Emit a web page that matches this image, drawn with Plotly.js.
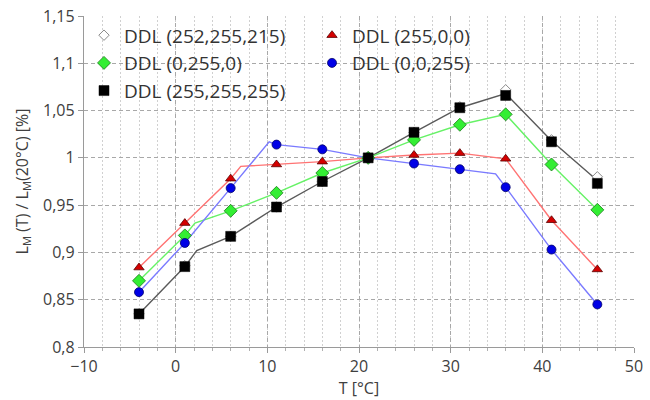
<!DOCTYPE html>
<html>
<head>
<meta charset="utf-8">
<script src="https://cdn.plot.ly/plotly-3.0.1.min.js"></script>
<style>html,body{margin:0;padding:0;background:#fff;}#chart{width:650px;height:400px;}</style>
</head>
<body>
<div id="chart"></div>
<script>
// Temperatures of the measured points [°C]
var temps = [-4, 1, 6, 11, 16, 21, 26, 31, 36, 41, 46];

// Measured ratios (markers)
var ddlGray  = [0.835, 0.886, 0.917, 0.948, 0.975, 1.000, 1.027, 1.054, 1.072, 1.019, 0.980];
var ddlRed   = [0.884, 0.931, 0.978, 0.993, 0.996, 1.000, 1.003, 1.005, 0.999, 0.934, 0.882];
var ddlGreen = [0.870, 0.918, 0.944, 0.963, 0.984, 1.000, 1.019, 1.035, 1.046, 0.993, 0.945];
var ddlBlue  = [0.858, 0.910, 0.968, 1.014, 1.009, 1.000, 0.994, 0.988, 0.969, 0.903, 0.845];
var ddlBlack = [0.835, 0.885, 0.917, 0.948, 0.975, 1.000, 1.027, 1.053, 1.066, 1.017, 0.973];

// Connecting lines as drawn in the picture (with their small bends)
var lineBlackT = [-4, 1, 2.3, 6, 11, 16, 21, 26, 31, 36, 41, 46];
var lineBlackV = [0.835, 0.885, 0.902, 0.917, 0.948, 0.975, 1.000, 1.027, 1.053, 1.068, 1.018, 0.976];
var lineGreenT = [-4, 1, 2.1, 6, 11, 16, 21, 26, 31, 36, 41, 46];
var lineGreenV = [0.870, 0.918, 0.931, 0.944, 0.963, 0.984, 1.000, 1.019, 1.035, 1.046, 0.993, 0.945];
var lineRedT   = [-4, 1, 6, 7.1, 11, 16, 21, 26, 31, 36, 41, 46];
var lineRedV   = [0.884, 0.931, 0.978, 0.991, 0.993, 0.996, 1.000, 1.003, 1.005, 0.999, 0.934, 0.882];
var lineBlueT  = [-4, 1, 6, 10.2, 11, 16, 21, 26, 31, 34.9, 36, 41, 46];
var lineBlueV  = [0.858, 0.910, 0.968, 1.017, 1.014, 1.009, 1.000, 0.994, 0.988, 0.983, 0.969, 0.903, 0.845];

var seriesNames = ['DDL (252,255,215)', 'DDL (255,0,0)', 'DDL (0,255,0)', 'DDL (0,0,255)', 'DDL (255,255,255)'];

// Axis ticks
var xTickVals = [-10, 0, 10, 20, 30, 40, 50];
var yTickVals = [0.8, 0.85, 0.9, 0.95, 1, 1.05, 1.1, 1.15];
var yTickText = ['0,8', '0,85', '0,9', '0,95', '1', '1,05', '1,1', '1,15'];

var FONT = 'Open Sans, sans-serif';

function lineTrace(t, v, color) {
  return {x: t, y: v, mode: 'lines', line: {color: color, width: 1.4},
          showlegend: false, hoverinfo: 'skip'};
}

var traces = [
  lineTrace(lineBlackT, lineBlackV, '#5a5a5a'),
  lineTrace(lineRedT, lineRedV, '#ff7373'),
  lineTrace(lineGreenT, lineGreenV, '#66f266'),
  lineTrace(lineBlueT, lineBlueV, '#7a7aff'),
  {x: temps, y: ddlGray, mode: 'markers', name: seriesNames[0],
   marker: {symbol: 'diamond', size: 8, color: '#ffffff', line: {color: '#8a8a8a', width: 1}}},
  {x: temps, y: ddlRed, mode: 'markers', name: seriesNames[1],
   marker: {symbol: 'triangle-up', size: 9, color: '#d40000', line: {color: '#5a0000', width: 0.8}}},
  {x: temps, y: ddlGreen, mode: 'markers', name: seriesNames[2],
   marker: {symbol: 'diamond', size: 10, color: '#33ee33', line: {color: '#1a7a1a', width: 0.8}}},
  {x: temps, y: ddlBlue, mode: 'markers', name: seriesNames[3],
   marker: {symbol: 'circle', size: 9, color: '#0000e6', line: {color: '#00006a', width: 0.8}}},
  {x: temps, y: ddlBlack, mode: 'markers', name: seriesNames[4],
   marker: {symbol: 'square', size: 10, color: '#000000', line: {color: '#000000', width: 0.5}}}
];

var layout = {
  width: 650, height: 400,
  margin: {l: 84, r: 16, t: 16, b: 53},
  paper_bgcolor: '#ffffff', plot_bgcolor: '#ffffff',
  font: {family: FONT, color: '#404040', size: 15},
  showlegend: true,
  legend: {
    orientation: 'h', x: 0, xanchor: 'left', y: 0.999, yanchor: 'top',
    bgcolor: 'rgba(0,0,0,0)', borderwidth: 0,
    font: {family: FONT, size: 19, color: '#333333'},
    entrywidth: 183, entrywidthmode: 'pixels', itemwidth: 30,
    traceorder: 'normal', tracegroupgap: 0
  },
  xaxis: {
    range: [-10, 50], tickmode: 'array', tickvals: xTickVals,
    showline: true, linecolor: '#9a9a9a', linewidth: 1.2,
    ticks: 'outside', ticklen: 5, tickcolor: '#9a9a9a',
    showgrid: true, gridcolor: '#a8a8a8', griddash: '4px,3px', gridwidth: 1,
    zeroline: false, tickfont: {size: 16, color: '#404040'},
    minor: {dtick: 2, ticks: 'outside', ticklen: 3, tickcolor: '#b0b0b0',
            showgrid: true, gridcolor: '#d0d0d0', griddash: '2px,2px', gridwidth: 1},
    title: {text: 'T [°C]', font: {size: 16, color: '#404040'}, standoff: 2}
  },
  yaxis: {
    range: [0.8, 1.15], tickmode: 'array', tickvals: yTickVals, ticktext: yTickText,
    showline: true, linecolor: '#9a9a9a', linewidth: 1.2,
    ticks: 'outside', ticklen: 5, tickcolor: '#9a9a9a',
    showgrid: true, gridcolor: '#a8a8a8', griddash: '4px,3px', gridwidth: 1,
    zeroline: false, tickfont: {size: 16, color: '#404040'},
    title: {text: 'L<sub>M</sub> (T) / L<sub>M</sub>(20°C) [%]', font: {size: 16, color: '#404040'}, standoff: 10}
  }
};

Plotly.newPlot('chart', traces, layout, {displayModeBar: false, staticPlot: true});
</script>
</body>
</html>
